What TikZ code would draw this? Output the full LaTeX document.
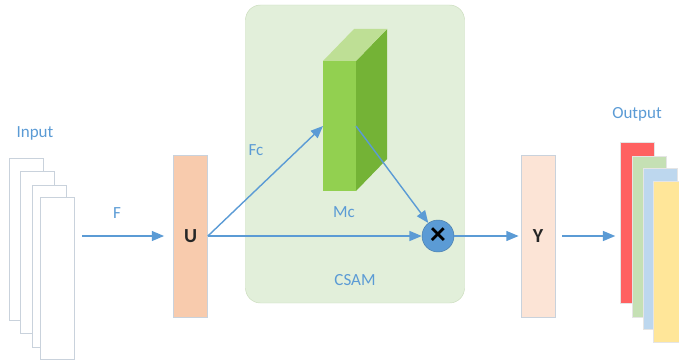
\documentclass[tikz,border=0pt]{standalone}
\usepackage{fontspec}
\setmainfont{Carlito}
\usetikzlibrary{arrows.meta}

\definecolor{lineblue}{HTML}{5B9BD5}
\definecolor{csamfill}{HTML}{E2EFDA}
\definecolor{csamline}{HTML}{CADCBC}
\definecolor{sheetline}{HTML}{C9D2DC}
\definecolor{ufill}{HTML}{F8CBAD}
\definecolor{yfill}{HTML}{FCE4D6}
\definecolor{cubefront}{HTML}{92D050}
\definecolor{cubeside}{HTML}{74B336}
\definecolor{cubetop}{HTML}{BEDF95}
\definecolor{outred}{HTML}{FF6161}
\definecolor{outgreen}{HTML}{C5E0B4}
\definecolor{outblue}{HTML}{BDD7EE}
\definecolor{outyellow}{HTML}{FFE699}

\begin{document}
\begin{tikzpicture}[x=0.03cm,y=-0.03cm,font=\fontsize{14.5}{17}\selectfont,
    >={Triangle[length=10.5pt,width=8.5pt]}]

      \useasboundingbox (0,0) rectangle (679,361);

      \node (csam) [draw=csamline,fill=csamfill,rounded corners=0.45cm,
        minimum width=6.57cm,minimum height=8.94cm] at (355,154) {};

      \begin{scope}[every node/.style={draw=sheetline,fill=white,
          minimum width=1.02cm,minimum height=4.86cm}]
        \node (in1) at (26,239)   {};
        \node (in2) at (37.5,252.5) {};
        \node (in3) at (49,266)   {};
        \node (in4) at (57,278.5) {};
      \end{scope}

      \begin{scope}[every node/.style={draw=sheetline,text=black!85,
          minimum width=1.03cm,minimum height=4.86cm,font=\fontsize{17}{19}\selectfont\bfseries}]
        \node (u) [fill=ufill] at (190.5,236) {U};
        \node (y) [fill=yfill] at (538,236) {Y};
      \end{scope}

      \begin{scope}[every node/.style={draw=white!80!gray,
          minimum width=1.02cm,minimum height=4.83cm}]
        \node (out1) [fill=outred]    at (637.5,222.5) {};
        \node (out2) [fill=outgreen]  at (649.5,236.5) {};
        \node (out3) [fill=outblue]   at (660,249)     {};
        \node (out4) [fill=outyellow] at (670,261.5)   {};
      \end{scope}

      \node (mc) [fill=cubefront,outer sep=0pt,inner sep=0pt,
        minimum width=0.99cm,minimum height=3.9cm] at (339.5,126) {};
      \fill[cubeside] (mc.north east) -- ++(31,-32) -- ++(0,130) -- (mc.south east) -- cycle;
      \fill[cubetop] (mc.north west) -- ++(31,-32) -- ++(33,0) -- (mc.north east) -- cycle;

      \node (mul) [circle,fill=lineblue,draw=lineblue!80!black,minimum size=0.96cm,
        inner sep=0pt,font=\fontsize{27}{27}\selectfont\bfseries] at (438,236) {×};

      \begin{scope}[every node/.style={text=lineblue}]
        \node (inlabel)   at (35,133)  {Input};
        \node (outlabel)  at (637,114) {Output};
        \node (flabel)    at (117,213) {F};
        \node (fclabel)   at (256,150) {Fc};
        \node (mclabel)   at (344,212) {Mc};
        \node (csamlabel) at (355,280) {CSAM};
      \end{scope}

      \begin{scope}[every edge/.style={draw=lineblue,line width=1.2pt,->}]
        \path (u.west -| in4.east) edge[shorten <=0.24cm,shorten >=0.27cm] (u.west);
        \path (u.east)  edge (mc.west);
        \path (u.east)  edge (mul.west);
        \path (mc.east) edge (mul);
        \path (mul.east) edge[shorten >=0.06cm] (y.west);
        \path (y.east)  edge[shorten <=0.21cm,shorten >=0.15cm] (y.east -| out1.west);
      \end{scope}

    \end{tikzpicture}
\end{document}
